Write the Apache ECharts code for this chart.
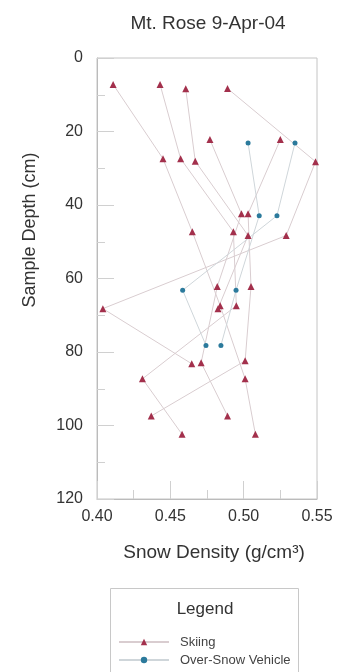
<!DOCTYPE html>
<html>
<head>
<meta charset="utf-8">
<script src="https://cdn.jsdelivr.net/npm/echarts@6/dist/echarts.min.js"></script>
<style>
  html, body { margin: 0; padding: 0; background: #fff; }
  #chart { width: 340px; height: 672px; }
</style>
</head>
<body>
<div id="chart"></div>
<script>
// density (g/cm3), depth (cm) per snow pit, in sampling order
const skiPitA = [[0.411, 7.2], [0.445, 27.4], [0.465, 47.3], [0.484, 67.4], [0.501, 87.3], [0.508, 102.4]];
const skiPitB = [[0.443, 7.2], [0.457, 27.4], [0.493, 47.3], [0.495, 67.4], [0.431, 87.3], [0.458, 102.4]];
const skiPitC = [[0.4605, 8.4], [0.467, 28.1], [0.503, 48.3], [0.4825, 68.2]];
const skiPitD = [[0.489, 8.3], [0.549, 28.2], [0.529, 48.3], [0.404, 68.2], [0.4646, 83.2]];
const skiPitE = [[0.477, 22.2], [0.4985, 42.4], [0.482, 62.2], [0.471, 82.9], [0.489, 97.4]];
const skiPitF = [[0.525, 22.2], [0.503, 42.4], [0.505, 62.2], [0.501, 82.4], [0.437, 97.4]];
const osvPitA = [[0.503, 23.1], [0.5106, 42.9], [0.4948, 63.2], [0.4845, 78.2]];
const osvPitB = [[0.535, 23.1], [0.5227, 42.9], [0.4584, 63.2], [0.4743, 78.2]];

const skiPits = [skiPitA, skiPitB, skiPitC, skiPitD, skiPitE, skiPitF];
const osvPits = [osvPitA, osvPitB];

const FONT = "'Liberation Sans', Arial, sans-serif";

const chart = echarts.init(document.getElementById("chart"));

const skiSeries = skiPits.map((pit) => ({
  name: "Skiing",
  type: "line",
  data: pit,
  symbol: "triangle",
  symbolSize: 7,
  itemStyle: { color: "#a3304c" },
  lineStyle: { color: "#d9cdd0", width: 1 },
}));

const osvSeries = osvPits.map((pit) => ({
  name: "Over-Snow Vehicle",
  type: "line",
  data: pit,
  symbol: "circle",
  symbolSize: 5,
  itemStyle: { color: "#2b7a9c" },
  lineStyle: { color: "#cfd6da", width: 1 },
}));

chart.setOption({
  animation: false,
  textStyle: { fontFamily: FONT },
  title: {
    text: "Mt. Rose 9-Apr-04",
    left: 203,
    top: 9,
    textAlign: "center",
    textStyle: { fontSize: 19, fontWeight: "normal", color: "#333", fontFamily: FONT },
  },
  grid: { left: 97, right: 23, top: 58, bottom: 173, show: true, borderColor: "#c4c4c4", borderWidth: 1 },
  xAxis: {
    type: "value",
    min: 0.4,
    max: 0.55,
    interval: 0.05,
    axisLine: { onZero: false, lineStyle: { color: "#bbb" } },
    axisTick: { inside: true, length: 18, lineStyle: { color: "#d0d0d0" } },
    minorTick: { show: true, splitNumber: 2, length: 9, lineStyle: { color: "#d0d0d0" } },
    splitLine: { show: false },
    axisLabel: {
      margin: 10,
      fontSize: 16,
      color: "#333",
      fontFamily: FONT,
      formatter: (v) => v.toFixed(2),
    },
  },
  yAxis: {
    type: "value",
    inverse: true,
    min: 0,
    max: 120,
    interval: 20,
    axisLine: { onZero: false, lineStyle: { color: "#bbb" } },
    axisTick: { inside: true, length: 17, lineStyle: { color: "#d0d0d0" } },
    minorTick: { show: true, splitNumber: 2, length: 8, lineStyle: { color: "#d0d0d0" } },
    splitLine: { show: false },
    axisLabel: { margin: 14, fontSize: 16, color: "#333", fontFamily: FONT },
  },
  legend: {
    data: ["Skiing", "Over-Snow Vehicle"],
    orient: "vertical",
    left: 118,
    top: 635,
    padding: 0,
    itemWidth: 50,
    itemHeight: 8,
    itemGap: 4,
    textStyle: { fontSize: 13, color: "#444", lineHeight: 14, padding: [0, 0, 0, 6], fontFamily: FONT },
  },
  graphic: [
    {
      type: "text",
      x: 30,
      y: 230,
      rotation: Math.PI / 2,
      style: {
        text: "Sample Depth (cm)",
        fontSize: 18,
        fill: "#333",
        fontFamily: FONT,
        align: "center",
        verticalAlign: "middle",
      },
    },
    {
      type: "text",
      x: 214,
      y: 553,
      style: {
        text: "Snow Density (g/cm³)",
        fontSize: 19,
        fill: "#333",
        fontFamily: FONT,
        align: "center",
        verticalAlign: "middle",
      },
    },
    {
      type: "rect",
      shape: { x: 110.5, y: 588.5, width: 188, height: 100 },
      style: { fill: "none", stroke: "#c8c8c8", lineWidth: 1 },
    },
    {
      type: "text",
      x: 205,
      y: 609,
      style: {
        text: "Legend",
        fontSize: 17,
        fill: "#333",
        fontFamily: FONT,
        align: "center",
        verticalAlign: "middle",
      },
    },
  ],
  series: [...skiSeries, ...osvSeries],
});
</script>
</body>
</html>
